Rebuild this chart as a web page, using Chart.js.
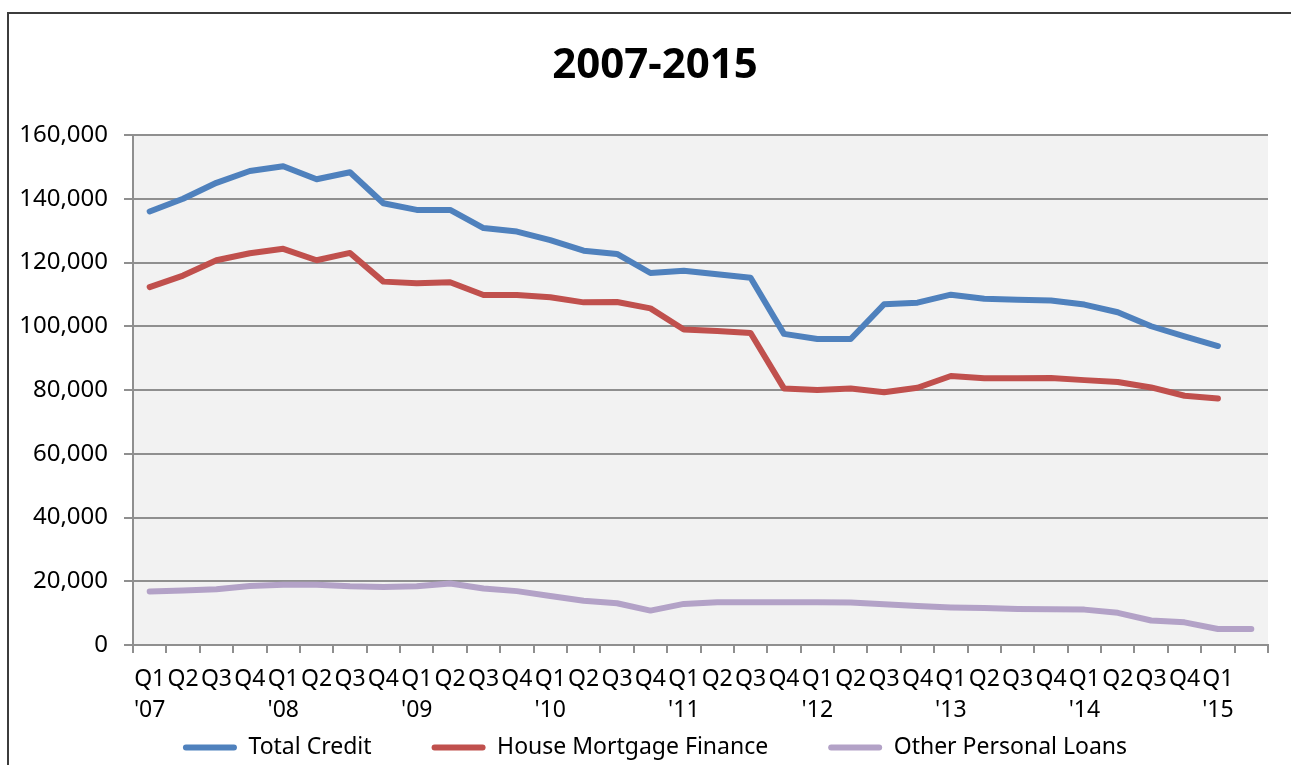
<!DOCTYPE html>
<html>
<head>
<meta charset="utf-8">
<script src="https://cdn.jsdelivr.net/npm/chart.js@4.4.1/dist/chart.umd.min.js"></script>
<style>
  html, body { margin: 0; padding: 0; background: #ffffff; }
  #wrap { position: relative; width: 1291px; height: 765px; overflow: hidden; }
  #frame { position: absolute; left: 7px; top: 12px; width: 1400px; height: 900px; border: 2px solid #3c3c3c; box-sizing: border-box; }
  #c { position: absolute; left: 0; top: 0; }
</style>
</head>
<body>
<div id="wrap">
  <div id="frame"></div>
  <canvas id="c" width="1291" height="765"></canvas>
</div>
<script>
const chartTitle = '2007-2015';

const quarterLabels = [
  'Q1','Q2','Q3','Q4','Q1','Q2','Q3','Q4','Q1','Q2','Q3','Q4',
  'Q1','Q2','Q3','Q4','Q1','Q2','Q3','Q4','Q1','Q2','Q3','Q4',
  'Q1','Q2','Q3','Q4','Q1','Q2','Q3','Q4','Q1',''
];
const yearLabels = [
  "'07",'','','',"'08",'','','',"'09",'','','',
  "'10",'','','',"'11",'','','',"'12",'','','',
  "'13",'','','',"'14",'','','',"'15",''
];

const seriesNames = ['Total Credit', 'House Mortgage Finance', 'Other Personal Loans'];

const totalCredit = [
  136000,140000,145000,148700,150200,146100,148300,138600,136500,136500,130800,129700,
  127000,123700,122700,116700,117400,116300,115200,97600,96000,96000,106900,107400,
  109900,108600,108300,108100,106800,104400,100000,96800,93800,null
];
const houseMortgage = [
  112300,115900,120700,122900,124300,120700,123000,114000,113500,113800,109800,109800,
  109100,107500,107600,105600,99000,98500,97900,80500,80000,80500,79300,80700,
  84400,83700,83700,83800,83100,82500,80800,78200,77300,null
];
const otherPersonal = [
  16800,17100,17500,18500,18900,18900,18400,18200,18400,19300,17700,16900,
  15400,13900,13100,10800,12900,13400,13400,13400,13400,13300,12800,12200,
  11800,11600,11300,11200,11100,10100,7700,7100,5000,5000
];

const yTicks = [0, 20000, 40000, 60000, 80000, 100000, 120000, 140000, 160000];

const colors = ['#4f81bd', '#c0504d', '#b3a2c7'];
const gridColor = '#8f8f8f';
const fontFamily = '"Noto Sans", "Open Sans", sans-serif';

const categories = quarterLabels.map((q, i) => [q, yearLabels[i]]);

const plotBg = {
  id: 'plotBg',
  beforeDraw(chart) {
    const { ctx, chartArea: a } = chart;
    ctx.save();
    ctx.fillStyle = '#f2f2f2';
    ctx.fillRect(a.left, a.top, a.right - a.left, a.bottom - a.top);
    ctx.restore();
  }
};

// place title and legend like the original (centred on the full frame, legend below the labels)
const placeBlocks = {
  id: 'placeBlocks',
  afterLayout(chart) {
    const t = chart.titleBlock;
    if (t) { t.left += 16; t.right += 16; }
    const lg = chart.legend;
    if (lg) {
      const shift = 655 - (lg.left + lg.right) / 2;
      lg.left += shift; lg.right += shift;
      lg.top = 676; lg.bottom = chart.height;
      lg.height = lg.bottom - lg.top;
    }
  }
};

function makeDataset(label, data, color) {
  return {
    label, data,
    borderColor: color, backgroundColor: color,
    borderWidth: 6, pointRadius: 0, pointHoverRadius: 0,
    tension: 0, fill: false, spanGaps: false,
    borderCapStyle: 'round', borderJoinStyle: 'round'
  };
}

new Chart(document.getElementById('c'), {
  type: 'line',
  data: {
    labels: categories,
    datasets: [
      makeDataset(seriesNames[0], totalCredit, colors[0]),
      makeDataset(seriesNames[1], houseMortgage, colors[1]),
      makeDataset(seriesNames[2], otherPersonal, colors[2])
    ]
  },
  options: {
    responsive: false,
    animation: false,
    devicePixelRatio: 1,
    layout: { padding: { top: 14, left: 10, right: 23, bottom: 0 } },
    plugins: {
      tooltip: { enabled: false },
      title: {
        display: true,
        text: chartTitle,
        color: '#000000',
        font: { family: fontFamily, size: 42, weight: 'bold', lineHeight: 1.2 },
        padding: { top: 27, bottom: 43.6 }
      },
      legend: {
        display: true,
        position: 'bottom',
        maxHeight: 40,
        labels: {
          color: '#000000',
          font: { family: fontFamily, size: 23 },
          boxWidth: 54,
          boxHeight: 6,
          padding: 60,
          useBorderRadius: true,
          borderRadius: 3,
          generateLabels(chart) {
            const items = Chart.defaults.plugins.legend.labels.generateLabels(chart);
            return items.map(it => Object.assign(it, { lineWidth: 0, fillStyle: it.strokeStyle }));
          }
        }
      }
    },
    scales: {
      x: {
        offset: true,
        afterFit(scale) { scale.height = 80; },
        grid: {
          display: true, offset: true, drawOnChartArea: false, drawTicks: true,
          tickLength: 8, color: gridColor, lineWidth: 2
        },
        border: { display: true, color: gridColor, width: 2 },
        ticks: {
          autoSkip: false, maxRotation: 0, minRotation: 0, padding: 10.5,
          color: '#000000',
          font: { family: fontFamily, size: 23, lineHeight: 1.35 }
        }
      },
      y: {
        min: 0, max: 160000,
        afterFit(scale) { scale.width = 123; },
        afterBuildTicks(scale) { scale.ticks = yTicks.map(v => ({ value: v })); },
        grid: { color: gridColor, lineWidth: 2, tickLength: 9, drawTicks: true },
        border: { display: true, color: gridColor, width: 2 },
        ticks: {
          padding: 16,
          color: '#000000',
          font: { family: fontFamily, size: 24 },
          callback: v => Number(v).toLocaleString('en-US')
        }
      }
    }
  },
  plugins: [plotBg, placeBlocks]
});
</script>
</body>
</html>
